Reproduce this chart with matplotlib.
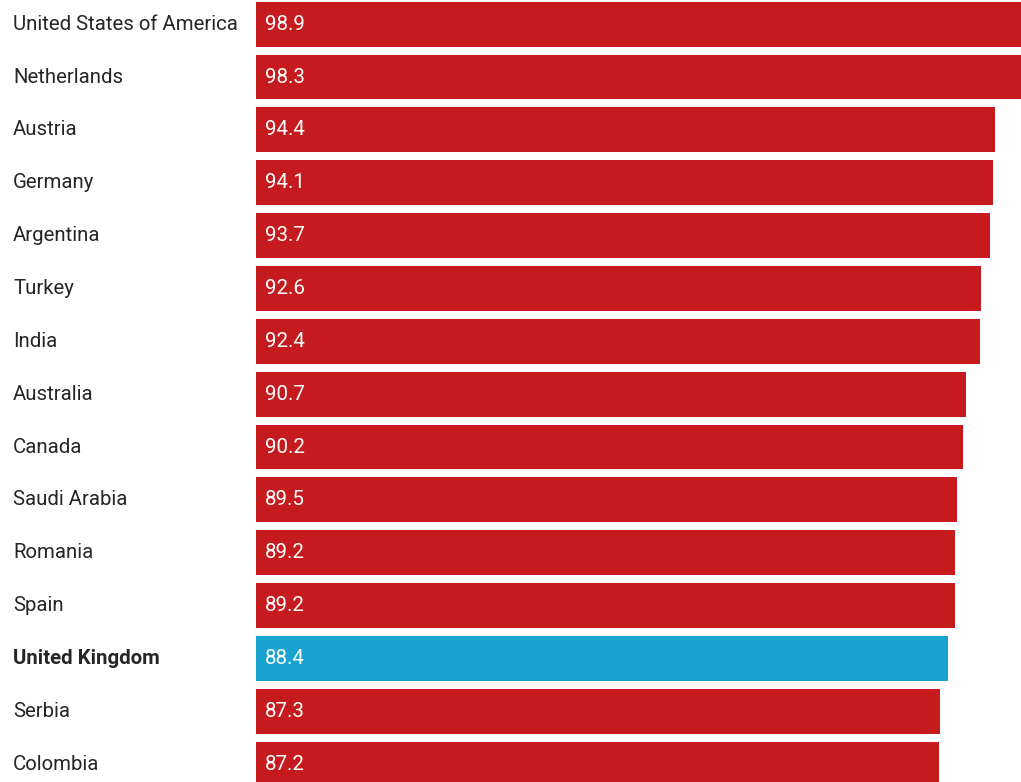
import matplotlib
matplotlib.use("Agg")
import matplotlib.pyplot as plt

countries = [
    "United States of America", "Netherlands", "Austria", "Germany",
    "Argentina", "Turkey", "India", "Australia", "Canada", "Saudi Arabia",
    "Romania", "Spain", "United Kingdom", "Serbia", "Colombia",
]
values = [98.9, 98.3, 94.4, 94.1, 93.7, 92.6, 92.4, 90.7, 90.2, 89.5,
          89.2, 89.2, 88.4, 87.3, 87.2]
highlight = "United Kingdom"

RED = "#C61B1E"
BLUE = "#19A3D0"
TEXT = "#262626"

plt.rcParams["font.family"] = ["Roboto", "DejaVu Sans"]

W, H = 1021, 782
fig = plt.figure(figsize=(W / 100, H / 100), dpi=100)
left_px = 256.3
ax = fig.add_axes([left_px / W, 0, 1 - left_px / W, 1])

ypos = list(range(len(countries)))
colors = [BLUE if c == highlight else RED for c in countries]
ax.barh(ypos, values, height=0.85, color=colors, linewidth=0)

px_per_unit = 7.83
ax.set_xlim(0, (W - left_px) / px_per_unit)
ax.set_ylim(14.337, -0.457)
ax.axis("off")

for y, c, v in zip(ypos, countries, values):
    ax.text(9 / px_per_unit, y, f"{v:.1f}", color="white", fontsize=14.8,
            va="center", ha="left")
    xf = 13 / W
    yf = ax.transData.transform((0, y))[1] / H
    fig.text(xf, yf, c, color=TEXT, fontsize=14.7, va="center", ha="left",
             fontweight="bold" if c == highlight else "normal")

fig.savefig("out.png", dpi=100)
